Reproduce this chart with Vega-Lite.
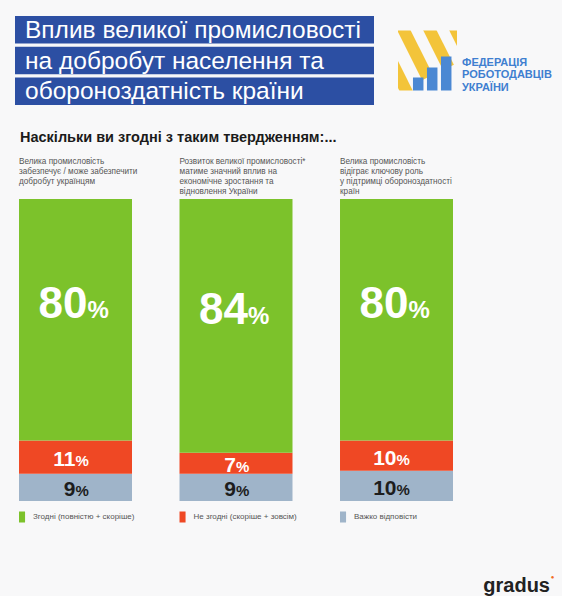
{
  "$schema": "https://vega.github.io/schema/vega-lite/v6.json",
  "background": "#f8f8f9",
  "padding": {"left": 15, "top": 16, "right": 0, "bottom": 0},
  "config": {"view": {"stroke": null}, "font": "Liberation Sans"},
  "spacing": 24,
  "vconcat": [
    {
      "spacing": 24,
      "center": true,
      "hconcat": [
        {
          "width": 359,
          "height": 89,
          "data": {"values": [
            {"line": "Вплив великої промисловості"},
            {"line": "на добробут населення та"},
            {"line": "обороноздатність країни"}
          ]},
          "encoding": {
            "y": {"field": "line", "type": "nominal", "sort": null, "axis": null,
                  "scale": {"type": "band", "paddingInner": 0.1, "paddingOuter": 0}}
          },
          "layer": [
            {"mark": {"type": "rect", "color": "#2c4fa3"},
             "encoding": {"x": {"value": 0}, "x2": {"value": "width"}}},
            {"mark": {"type": "text", "align": "left", "baseline": "middle", "fontSize": 24.5, "color": "white", "dy": 1},
             "encoding": {"x": {"value": 10}, "text": {"field": "line"}}}
          ]
        },
        {
          "spacing": 5,
          "center": true,
          "hconcat": [
            {
              "width": 59,
              "height": 60,
              "layer": [
                {
                  "data": {"values": [
                    {"x0": -25, "y0": 66, "x1": 11, "y1": -6},
                    {"x0": 3, "y0": 66, "x1": 29.5, "y1": 13},
                    {"x0": 29, "y0": 66, "x1": 50.5, "y1": 23},
                    {"x0": 55, "y0": 66, "x1": 71, "y1": 34}
                  ]},
                  "mark": {"type": "rule", "color": "#f3c43a", "strokeWidth": 12, "strokeCap": "butt", "clip": true},
                  "encoding": {
                    "x": {"field": "x0", "type": "quantitative", "scale": {"domain": [0, 59]}, "axis": null},
                    "y": {"field": "y0", "type": "quantitative", "scale": {"domain": [0, 60]}, "axis": null},
                    "x2": {"field": "x1"},
                    "y2": {"field": "y1"}
                  }
                },
                {
                  "data": {"values": [
                    {"bar": "a", "h": 13},
                    {"bar": "b", "h": 23},
                    {"bar": "c", "h": 34}
                  ]},
                  "mark": {"type": "bar", "color": "#4b88d3"},
                  "encoding": {
                    "x": {"field": "bar", "type": "nominal", "axis": null,
                          "scale": {"type": "band", "paddingInner": 0.25, "paddingOuter": 0.732, "align": 0.73}},
                    "y": {"field": "h", "type": "quantitative", "axis": null, "scale": {"domain": [0, 60]}}
                  }
                }
              ],
              "resolve": {"scale": {"x": "independent"}}
            },
            {
              "width": 100,
              "height": 60,
              "data": {"values": [
                {"t": "ФЕДЕРАЦІЯ\nРОБОТОДАВЦІВ\nУКРАЇНИ"}
              ]},
              "mark": {"type": "text", "align": "left", "baseline": "bottom", "lineBreak": "\n", "lineHeight": 12.5, "fontSize": 11, "fontWeight": "bold", "color": "#3f7fd0", "dy": -21},
              "encoding": {
                "y": {"value": "height"},
                "x": {"value": 0},
                "text": {"field": "t"}
              }
            }
          ]
        }
      ]
    },
    {
      "spacing": 10,
      "vconcat": [
        {
          "width": 438,
          "height": 302,
          "title": {"text": "Наскільки ви згодні з таким твердженням:...", "anchor": "start", "fontSize": 14.5, "fontWeight": "bold", "color": "#1b1b1b", "dx": 5, "offset": 11},
          "data": {"values": [
            {"q": "Велика промисловість\nзабезпечує / може забезпечити\nдобробут українцям", "cat": "Важко відповісти", "value": 9},
            {"q": "Велика промисловість\nзабезпечує / може забезпечити\nдобробут українцям", "cat": "Не згодні (скоріше + зовсім)", "value": 11},
            {"q": "Велика промисловість\nзабезпечує / може забезпечити\nдобробут українцям", "cat": "Згодні (повністю + скоріше)", "value": 80},
            {"q": "Розвиток великої промисловості*\nматиме значний вплив на\nекономічне зростання та\nвідновлення України", "cat": "Важко відповісти", "value": 9},
            {"q": "Розвиток великої промисловості*\nматиме значний вплив на\nекономічне зростання та\nвідновлення України", "cat": "Не згодні (скоріше + зовсім)", "value": 7},
            {"q": "Розвиток великої промисловості*\nматиме значний вплив на\nекономічне зростання та\nвідновлення України", "cat": "Згодні (повністю + скоріше)", "value": 84},
            {"q": "Велика промисловість\nвідіграє ключову роль\nу підтримці обороноздатності\nкраїн", "cat": "Важко відповісти", "value": 10},
            {"q": "Велика промисловість\nвідіграє ключову роль\nу підтримці обороноздатності\nкраїн", "cat": "Не згодні (скоріше + зовсім)", "value": 10},
            {"q": "Велика промисловість\nвідіграє ключову роль\nу підтримці обороноздатності\nкраїн", "cat": "Згодні (повністю + скоріше)", "value": 80}
          ]},
          "transform": [
            {"stack": "value", "groupby": ["q"], "as": ["v0", "v1"], "offset": "zero"},
            {"calculate": "(datum.v0 + datum.v1) / 2", "as": "mid"}
          ],
          "encoding": {
            "x": {
              "field": "q", "type": "nominal", "sort": null,
              "scale": {"type": "band", "paddingInner": 0.296, "paddingOuter": 0.0125, "align": 1},
              "axis": {
                "orient": "top", "title": null, "domain": false, "ticks": false, "tickSize": 0,
                "labelAngle": 0, "labelAlign": "left", "labelBaseline": "top", "labelPadding": 42,
                "labelOffset": -56.5, "labelFontSize": 8.2, "labelColor": "#555555", "labelLineHeight": 10,
                "labelLimit": 0, "labelOverlap": false, "labelExpr": "split(datum.label, '\\n')"
              }
            }
          },
          "layer": [
            {
              "mark": {"type": "bar"},
              "encoding": {
                "y": {"field": "v1", "type": "quantitative", "scale": {"domain": [0, 100], "nice": false}, "axis": null},
                "y2": {"field": "v0"},
                "color": {"field": "cat", "type": "nominal", "legend": null,
                          "scale": {"domain": ["Згодні (повністю + скоріше)", "Не згодні (скоріше + зовсім)", "Важко відповісти"],
                                    "range": ["#7cc22b", "#ef4824", "#9fb4c9"]}}
              }
            },
            {
              "transform": [{"filter": "datum.cat === 'Згодні (повністю + скоріше)'"}],
              "mark": {"type": "text", "align": "right", "baseline": "alphabetic", "dx": 12, "dy": -2, "fontSize": 44, "fontWeight": "bold", "color": "white"},
              "encoding": {"y": {"field": "mid", "type": "quantitative"}, "text": {"field": "value"}}
            },
            {
              "transform": [{"filter": "datum.cat === 'Згодні (повністю + скоріше)'"}],
              "mark": {"type": "text", "align": "left", "baseline": "alphabetic", "dx": 12, "dy": -2, "fontSize": 24, "fontWeight": "bold", "color": "white", "text": "%"},
              "encoding": {"y": {"field": "mid", "type": "quantitative"}}
            },
            {
              "transform": [{"filter": "datum.cat !== 'Згодні (повністю + скоріше)'"}],
              "mark": {"type": "text", "align": "right", "baseline": "alphabetic", "dx": 0, "dy": 9, "fontSize": 21, "fontWeight": "bold"},
              "encoding": {
                "y": {"field": "mid", "type": "quantitative"},
                "text": {"field": "value"},
                "color": {"condition": {"test": "datum.cat === 'Важко відповісти'", "value": "#1d1d1d"}, "value": "white"}
              }
            },
            {
              "transform": [{"filter": "datum.cat !== 'Згодні (повністю + скоріше)'"}],
              "mark": {"type": "text", "align": "left", "baseline": "alphabetic", "dx": 0, "dy": 9, "fontSize": 15, "fontWeight": "bold", "text": "%"},
              "encoding": {
                "y": {"field": "mid", "type": "quantitative"},
                "color": {"condition": {"test": "datum.cat === 'Важко відповісти'", "value": "#1d1d1d"}, "value": "white"}
              }
            }
          ]
        },
        {
          "width": 438,
          "height": 12,
          "data": {"values": [
            {"cat": "Згодні (повністю + скоріше)"},
            {"cat": "Не згодні (скоріше + зовсім)"},
            {"cat": "Важко відповісти"}
          ]},
          "encoding": {
            "x": {"field": "cat", "type": "nominal", "sort": null, "axis": null, "bandPosition": 0,
                  "scale": {"type": "band", "paddingInner": 0.296, "paddingOuter": 0.0125, "align": 1}}
          },
          "layer": [
            {
              "mark": {"type": "point", "filled": true, "opacity": 1, "shape": "M0,-1H1.1V1H0Z", "size": 121},
              "encoding": {
                "color": {"field": "cat", "type": "nominal", "legend": null,
                          "scale": {"domain": ["Згодні (повністю + скоріше)", "Не згодні (скоріше + зовсім)", "Важко відповісти"],
                                    "range": ["#7cc22b", "#ef4824", "#9fb4c9"]}}
              }
            },
            {
              "mark": {"type": "text", "align": "left", "baseline": "middle", "dx": 14, "fontSize": 8, "color": "#555555"},
              "encoding": {"text": {"field": "cat"}}
            }
          ]
        },
        {
          "width": 535,
          "height": 59,
          "data": {"values": [{"brand": "gradus"}]},
          "layer": [
            {
              "mark": {"type": "text", "align": "right", "baseline": "alphabetic", "fontSize": 20, "fontWeight": "bold", "color": "#222222"},
              "encoding": {"x": {"value": "width"}, "y": {"value": "height"}, "text": {"field": "brand"}}
            },
            {
              "mark": {"type": "text", "align": "center", "baseline": "middle", "fontSize": 6, "color": "#f26b21", "dx": 2.5, "dy": -15, "text": "●"},
              "encoding": {"x": {"value": "width"}, "y": {"value": "height"}}
            }
          ]
        }
      ]
    }
  ]
}
